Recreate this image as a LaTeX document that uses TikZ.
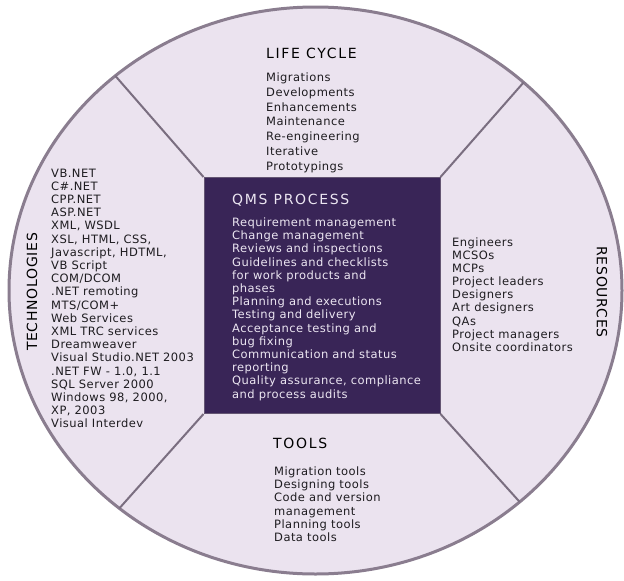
\documentclass[tikz,border=0pt]{standalone}
\usepackage{fontspec}
\setmainfont{DejaVu Sans}
\newfontfamily\bodyfont[LetterSpace=4]{DejaVu Sans}
\newfontfamily\headfont[LetterSpace=12]{DejaVu Sans}
\newfontfamily\sidefont[LetterSpace=5]{DejaVu Sans}
\usetikzlibrary{shapes.geometric}
\definecolor{ringfill}{RGB}{235,227,239}
\definecolor{ringline}{RGB}{138,125,143}
\definecolor{qmsfill}{RGB}{57,37,87}
\definecolor{qmsline}{RGB}{100,86,115}
\definecolor{qmstext}{RGB}{236,230,242}
\definecolor{spoke}{RGB}{122,110,128}
\definecolor{listink}{RGB}{30,28,32}
\tikzset{
	listtext/.style={anchor=north west, align=left, inner sep=0pt, text=listink,
		font=\bodyfont\fontsize{11.5}{#1}\selectfont},
	heading/.style={anchor=west, inner sep=0pt,
		font=\headfont\fontsize{14}{16}\selectfont},
	sideheading/.style={inner sep=0pt, font=\sidefont\fontsize{14}{16}\selectfont},
	spokeline/.style={draw=spoke, line width=2pt}
}
\begin{document}
\begin{tikzpicture}[x=1pt, y=-1pt]
	\useasboundingbox (0,0) rectangle (624,581);
	% Kreis
	\node[ellipse, draw=ringline, line width=3pt, fill=ringfill, outer sep=0pt,
	minimum width=613pt, minimum height=567pt, inner sep=0pt] (ring) at (315.5,290.5) {};
	% Quadrat in der Mitte
	\node[draw=qmsline, line width=1pt, fill=qmsfill, minimum size=236pt,
	inner sep=0pt] (qms) at (322,295.5) {};
	% Speichen
	\draw[spokeline] (qms.north west) -- (ring.133);
	\draw[spokeline] (qms.north east) -- (ring.45);
	\draw[spokeline] (qms.south west) -- (ring.228);
	\draw[spokeline] (qms.south east) -- (ring.314);
	% Life Cycle
	\node[heading] (lifehead) at (266,53) {LIFE CYCLE};
	\node[listtext=14.8] (lifelist) at (266,72.5) {Migrations\\Developments\\
		Enhancements\\Maintenance\\Re-engineering\\Iterative\\Prototypings};
	% QMS Prozess
	\node[heading, text=qmstext] (qmshead) at (232,200) {QMS PROCESS};
	\node[listtext=13.2, text=qmstext] (qmslist) at (232,217.5) {Requirement
		management\\Change management\\Reviews and inspections\\Guidelines and
		checklists\\for work products and\\phases\\Planning and executions\\Testing
		and delivery\\Acceptance testing and\\bug fixing\\Communication and
		status\\reporting\\Quality assurance, compliance\\and process audits};
	% Tools
	\node[heading] (toolhead) at (273,443) {TOOLS};
	\node[listtext=13.2] (toollist) at (274,466.5) {Migration tools\\Designing
		tools\\Code and version\\management\\Planning tools\\Data tools};
	% Technologies
	\node[sideheading, rotate=90] (techhead) at (32,292) {TECHNOLOGIES};
	\node[listtext=13.2] (techlist) at (51,168.5) {VB.NET\\C\#.NET\\CPP.NET\\
		ASP.NET\\XML, WSDL\\XSL, HTML, CSS,\\Javascript, HDTML,\\VB Script\\
		COM/DCOM\\.NET remoting\\MTS/COM+\\Web Services\\XML TRC services\\
		Dreamweaver\\Visual Studio.NET 2003\\.NET FW - 1.0, 1.1\\SQL Server 2000\\
		Windows 98, 2000,\\XP, 2003\\Visual Interdev};
	% Resources
	\node[sideheading, rotate=-90] (reshead) at (602,292) {RESOURCES};
	\node[listtext=13.1] (reslist) at (452,237.5) {Engineers\\MCSOs\\MCPs\\
		Project leaders\\Designers\\Art designers\\QAs\\Project managers\\
		Onsite coordinators};
\end{tikzpicture}
\end{document}
